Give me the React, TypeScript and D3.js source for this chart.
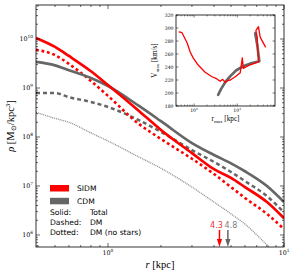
import React from "react";
import * as d3 from "d3";

// radius grid (kpc) and density profiles (Msun/kpc^3)
const rGrid = [0.39, 0.5, 0.6, 0.8, 1, 1.5, 2, 3, 4, 5, 6, 8, 10];
const sidmTotal = [1.05e10, 6.9e9, 4.5e9, 2.2e9, 1.15e9, 3.4e8, 1.39e8, 4.7e7, 2.2e7, 1.46e7, 9.5e6, 4.7e6, 2.2e6];
const sidmDM = [6.0e9, 4.7e9, 3.1e9, 1.39e9, 6.9e8, 1.84e8, 9.1e7, 3.6e7, 1.76e7, 9.5e6, 5.7e6, 2.7e6, 1.32e6];
const cdmTotal = [3.4e9, 2.9e9, 2.3e9, 1.6e9, 1.1e9, 4.3e8, 2.1e8, 7.5e7, 4.3e7, 2.9e7, 2.0e7, 1.0e7, 4.7e6];
const cdmDM = [7.9e8, 7.9e8, 6.5e8, 5.2e8, 4.1e8, 2.2e8, 1.27e8, 5.4e7, 3.1e7, 1.93e7, 1.26e7, 6.2e6, 2.9e6];
const cdmDMNoStars = [3.2e8, 2.4e8, 2.0e8, 1.21e8, 8.3e7, 3.9e7, 2.3e7, 9.5e6, 4.7e6, 2.7e6, 1.67e6, 6.3e5, 3.0e5];

// arrows marking r at the bottom
const arrowR = [4.3, 4.8];
const arrowLabels = ["4.3", "4.8"];

// inset: Vmax vs rmax tracks
const sidmRmax = [0.45, 0.52, 0.58, 0.69, 0.81, 0.95, 1.24, 1.8, 2.6, 3.3, 4.0, 4.6, 5.3, 6.0, 6.9, 9.0, 11.7, 13.1, 13.8, 18, 31, 29, 27, 31, 34, 45];
const sidmVmax = [294, 293, 287, 277, 263, 254, 243, 232, 225, 222, 218, 221, 216, 219, 220, 225, 231, 254, 238, 242, 248, 286, 296, 302, 286, 271];
const cdmRmax = [3.6, 4.2, 5.3, 6.9, 9.5, 14.5, 22, 32.5, 29, 26];
const cdmVmax = [197, 206, 217, 226, 235, 242, 246, 249, 274, 292];
const insetYTicks = [180, 200, 220, 240, 260, 280, 300, 320];

const RED = "#ff0000";
const GRAY = "#666666";
const LIGHT = "#8c8c8c";
const SERIF = "'DejaVu Serif', serif";
const SANS = "'DejaVu Sans', sans-serif";

const App = () => {
  const x = d3.scaleLog().domain([0.39, 10]).range([36, 284]);
  const y = d3.scaleLog().domain([Math.pow(10, 5.755), Math.pow(10, 10.694)]).range([247, 5]);

  const line = d3.line<number>()
    .x((d, i) => x(rGrid[i]))
    .y(d => y(d))
    .curve(d3.curveMonotoneX);

  const isMajor = (v: number) => Math.abs(Math.log10(v) - Math.round(Math.log10(v))) < 1e-6;

  const [x0, x1] = x.range();
  const [y0, y1] = y.range();

  const ix = d3.scaleLog().domain([0.38, 75]).range([176, 275]);
  const iy = d3.scaleLinear().domain([180, 320]).range([106, 15]);
  const iline = (rs: number[], vs: number[]) =>
    d3.line<number>().x((d, i) => ix(rs[i])).y(d => iy(d))(vs);

  return (
    <svg width={292} height={274} style={{ position: "fixed", left: 0, top: 0, background: "#fff" }}>
      <defs>
        <clipPath id="main-clip">
          <rect x={x0} y={y1} width={x1 - x0} height={y0 - y1} />
        </clipPath>
      </defs>

      <g clipPath="url(#main-clip)" fill="none">
        <path d={line(cdmDMNoStars) || ""} stroke={LIGHT} strokeWidth={1.3} strokeDasharray="1 0.9" />
        <path d={line(cdmDM) || ""} stroke={GRAY} strokeWidth={2.5} strokeDasharray="4 3" />
        <path d={line(sidmDM) || ""} stroke={RED} strokeWidth={2.6} strokeDasharray="2.8 2.8" />
        <path d={line(cdmTotal) || ""} stroke={GRAY} strokeWidth={2.7} />
        <path d={line(sidmTotal) || ""} stroke={RED} strokeWidth={2.7} />
      </g>

      {/* ticks, inward on all sides */}
      <g stroke="#000" strokeWidth={0.6}>
        {y.ticks().map((t, i) => {
          const len = isMajor(t) ? 4 : 2;
          const py = y(t);
          return (
            <g key={"yt" + i}>
              <line x1={x0} x2={x0 + len} y1={py} y2={py} />
              <line x1={x1} x2={x1 - len} y1={py} y2={py} />
            </g>
          );
        })}
        {x.ticks().map((t, i) => {
          const len = isMajor(t) ? 4 : 2;
          const px = x(t);
          return (
            <g key={"xt" + i}>
              <line x1={px} x2={px} y1={y0} y2={y0 - len} />
              <line x1={px} x2={px} y1={y1} y2={y1 + len} />
            </g>
          );
        })}
      </g>
      <rect x={x0} y={y1} width={x1 - x0} height={y0 - y1} fill="none" stroke="#000" strokeWidth={0.8} />

      {/* tick labels */}
      <g fontFamily={SERIF} fontSize={6.3} fill="#000">
        {y.ticks().filter(isMajor).map((t, i) => (
          <text key={"yl" + i} x={x0 - 3} y={y(t) + 2.2} textAnchor="end">
            10<tspan fontSize={4.3} dy={-3}>{Math.round(Math.log10(t))}</tspan>
          </text>
        ))}
        {x.ticks().filter(isMajor).map((t, i) => (
          <text key={"xl" + i} x={x(t)} y={y0 + 8} textAnchor="middle">
            10<tspan fontSize={4.3} dy={-3}>{Math.round(Math.log10(t))}</tspan>
          </text>
        ))}
      </g>

      {/* axis labels */}
      <text x={160} y={268} textAnchor="middle" fontFamily="'Liberation Serif', serif" fontSize={10.5}>
        <tspan fontStyle="italic">r</tspan> [kpc]
      </text>
      <text transform="translate(14,126) rotate(-90)" textAnchor="middle" fontFamily="'Liberation Serif', serif" fontSize={10.5}>
        <tspan fontStyle="italic">ρ</tspan> [M<tspan fontSize={7} dy={2}>⊙</tspan><tspan dy={-2}>/kpc</tspan><tspan fontSize={7} dy={-4}>3</tspan><tspan dy={4}>]</tspan>
      </text>

      {/* legend */}
      <g fontFamily={SANS} fontSize={7.6} fill="#000">
        <rect x={50} y={185} width={19} height={6.5} fill={RED} />
        <text x={77} y={191.3}>SIDM</text>
        <rect x={50} y={197.8} width={19} height={6.5} fill={GRAY} />
        <text x={77} y={204}>CDM</text>
        <text x={50} y={215}>Solid:</text>
        <text x={90} y={215}>Total</text>
        <text x={50} y={225}>Dashed:</text>
        <text x={90} y={225}>DM</text>
        <text x={50} y={235}>Dotted:</text>
        <text x={90} y={235}>DM (no stars)</text>
      </g>

      {/* arrows */}
      {arrowR.map((r, i) => {
        const c = i === 0 ? RED : GRAY;
        const px = x(r);
        return (
          <g key={"ar" + i}>
            <text x={px + (i === 0 ? -3 : 3)} y={227.5} textAnchor="middle" fontFamily={SANS} fontSize={8} fill={i === 0 ? "#ee3333" : "#808080"}>
              {arrowLabels[i]}
            </text>
            <line x1={px} x2={px} y1={230} y2={240} stroke={c} strokeWidth={1.5} />
            <path d={`M${px - 2.6},239 L${px + 2.6},239 L${px},${y0} Z`} fill={c} />
          </g>
        );
      })}

      {/* inset */}
      <rect x={176} y={15} width={99} height={91} fill="#fff" stroke="#000" strokeWidth={0.8} />
      <g stroke="#000" strokeWidth={0.5}>
        {insetYTicks.map((t, i) => (
          <g key={"iy" + i}>
            <line x1={176} x2={178.5} y1={iy(t)} y2={iy(t)} />
            <line x1={275} x2={272.5} y1={iy(t)} y2={iy(t)} />
          </g>
        ))}
        {ix.ticks().map((t, i) => {
          const len = isMajor(t) ? 2.5 : 1.4;
          return (
            <g key={"ix" + i}>
              <line x1={ix(t)} x2={ix(t)} y1={106} y2={106 - len} />
              <line x1={ix(t)} x2={ix(t)} y1={15} y2={15 + len} />
            </g>
          );
        })}
      </g>
      <g fontFamily={SERIF} fontSize={4.6} fill="#000">
        {insetYTicks.map((t, i) => (
          <text key={"iyl" + i} x={173.5} y={iy(t) + 1.6} textAnchor="end">{t}</text>
        ))}
        {ix.ticks().filter(isMajor).map((t, i) => (
          <text key={"ixl" + i} x={ix(t)} y={111.5} textAnchor="middle">
            10<tspan fontSize={3.2} dy={-2}>{Math.round(Math.log10(t))}</tspan>
          </text>
        ))}
      </g>
      <g fill="none" strokeLinejoin="round" strokeLinecap="round">
        <path d={iline(cdmRmax, cdmVmax) || ""} stroke={GRAY} strokeWidth={2.6} />
        <path d={iline(sidmRmax, sidmVmax) || ""} stroke={RED} strokeWidth={1.3} />
      </g>
      <text x={225.5} y={121} textAnchor="middle" fontFamily="'Liberation Serif', serif" fontSize={7.2}>
        r<tspan fontSize={5} dy={1.5}>max</tspan><tspan dy={-1.5}> [kpc]</tspan>
      </text>
      <text transform="translate(157,60.5) rotate(-90)" textAnchor="middle" fontFamily="'Liberation Serif', serif" fontSize={7.2}>
        V<tspan fontSize={5} dy={1.5}>max</tspan><tspan dy={-1.5}> [km/s]</tspan>
      </text>
    </svg>
  );
};

export default App;
